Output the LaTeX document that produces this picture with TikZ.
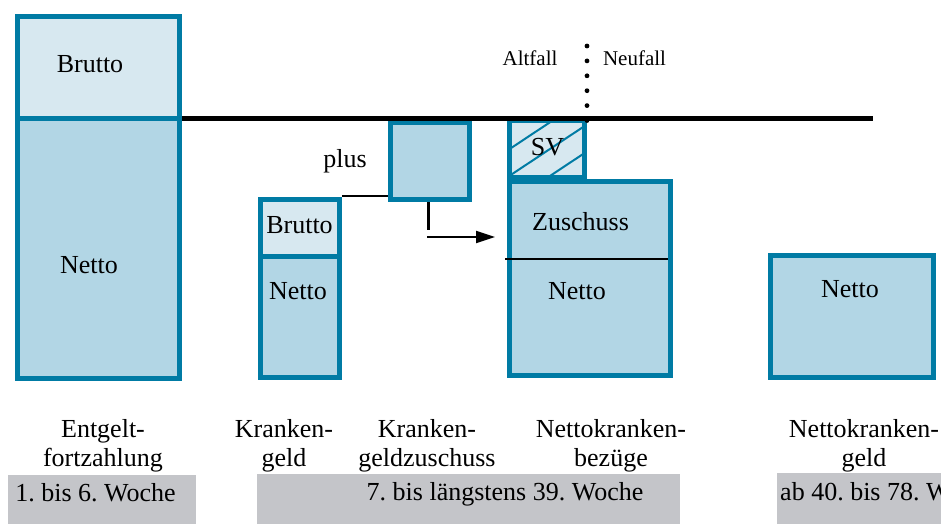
\documentclass[tikz,border=0pt]{standalone}
\usepackage{fontspec}
\setmainfont{Liberation Serif}
\usetikzlibrary{fit,calc,arrows.meta}
\frenchspacing

\definecolor{rim}{RGB}{0,123,164}
\definecolor{netfill}{RGB}{178,214,229}
\definecolor{grossfill}{RGB}{215,232,240}
\definecolor{band}{RGB}{196,197,201}

\tikzset{
  part/.style={draw=rim, line width=5pt, inner sep=0pt, outer sep=0pt},
  netpart/.style={part, fill=netfill},
  grosspart/.style={part, fill=grossfill},
  lbl/.style={inner sep=0pt, anchor=base, font=\fontsize{26}{29}\selectfont},
  caption/.style={lbl, align=center},
  small/.style={inner sep=0pt, anchor=base, font=\fontsize{21}{24}\selectfont},
  weekband/.style={fill=band, inner sep=0pt, outer sep=0pt},
  conn/.style={draw=black, line width=2.2pt},
  hatch/.style={draw=rim, line width=2pt},
}

\begin{document}
\begin{tikzpicture}[x=1pt, y=-1pt]
\useasboundingbox (0,0) rectangle (941,524);
\clip (0,0) rectangle (941,524);

% Entgeltfortzahlung
\node[grosspart, fit={(17.5,16.5)(179.5,118)}] (b1) {};
\node[netpart, fit={(17.5,118)(179.5,378.5)}] (n1) {};
\node[lbl] (tb1) at (90,73) {Brutto};
\node[lbl] (tn1) at (89,273) {Netto};

% Krankengeld
\node[grosspart, fit={(260.5,199.5)(339.5,256)}] (b2) {};
\node[netpart, fit={(260.5,256)(339.5,377.5)}] (n2) {};
\node[lbl] (tb2) at (299.5,233) {Brutto};
\node[lbl] (tn2) at (298,299) {Netto};

% Krankengeldzuschuss
\node[netpart, fit={(390.5,122.5)(469.5,199.5)}] (z) {};
\node[lbl] (tplus) at (345,167) {plus};

% Nettokrankenbezuege
\node[grosspart, fit={(509.5,120)(584.5,177.5)}] (sv) {};
\begin{scope}
  \clip (512,122.5) rectangle (582,175);
  \foreach \c in {148.3,175,202}
    \draw[hatch] (500,\c+7.1) -- (600,\c-59.2);
\end{scope}
\node[lbl] (tsv) at (547.5,155) {SV};
\node[netpart, fit={(509.5,181.5)(670.5,375.5)}] (nkb) {};
\draw[black, line width=2.5pt] (505,259) -- (668,259);
\node[lbl] (tzu) at (580.5,230) {Zuschuss};
\node[lbl] (tn3) at (577,299) {Netto};

% Nettokrankengeld
\node[netpart, fit={(770.5,255.5)(933.5,377.5)}] (n4) {};
\node[lbl] (tn4) at (850,297) {Netto};

% Grenzlinie Brutto/Netto
\coordinate (lineend) at (873,118);
\draw[black, line width=5pt] ([xshift=2.5pt]n1.north east) -- (lineend);

% Altfall / Neufall
\coordinate (dtop) at (587,46);
\coordinate (dbot) at (587,120.5);
\draw[black, line width=4.8pt, line cap=round, dash pattern=on 0pt off 14.9pt] (dtop) -- (dbot);
\node[small] (talt) at (530,66) {Altfall};
\node[small] (tneu) at (634.5,66) {Neufall};

% Verbindungen
\draw[conn] ($(b2.north east)+(2.5,-3.5)$) -- ($(z.south west)+(-2.5,-3.5)$);
\draw[conn] ($(z.south)+(-1.5,2.5)$) -- ++(0,28);
\coordinate (tip) at (495,237);
\draw[conn, -{Triangle[length=19pt,width=12pt]}] ($(z.south)+(-3,37.5)$) -- (tip);

% Beschriftungen (Grundlinie der zweiten Zeile)
\node[caption] (c1) at (103,466) {Entgelt-\\fortzahlung};
\node[caption] (c2) at (284,466) {Kranken-\\geld};
\node[caption] (c3) at (427,466) {Kranken-\\geldzuschuss};
\node[caption] (c4) at (611,466) {Nettokranken-\\bezüge};
\node[caption] (c5) at (864,466) {Nettokranken-\\geld};

% Zeitraeume
\fill[weekband] (8,475) rectangle (196,524);
\fill[weekband] (257,474) rectangle (680,524);
\fill[weekband] (777,473) rectangle (941,524);
\node[lbl] (w1) at (95.5,501) {1. bis 6. Woche};
\node[lbl] (w2) at (505,500) {7. bis längstens 39. Woche};
\node[lbl, anchor=base west] (w3) at (780,500) {ab 40. bis 78. Woche};
\end{tikzpicture}
\end{document}
